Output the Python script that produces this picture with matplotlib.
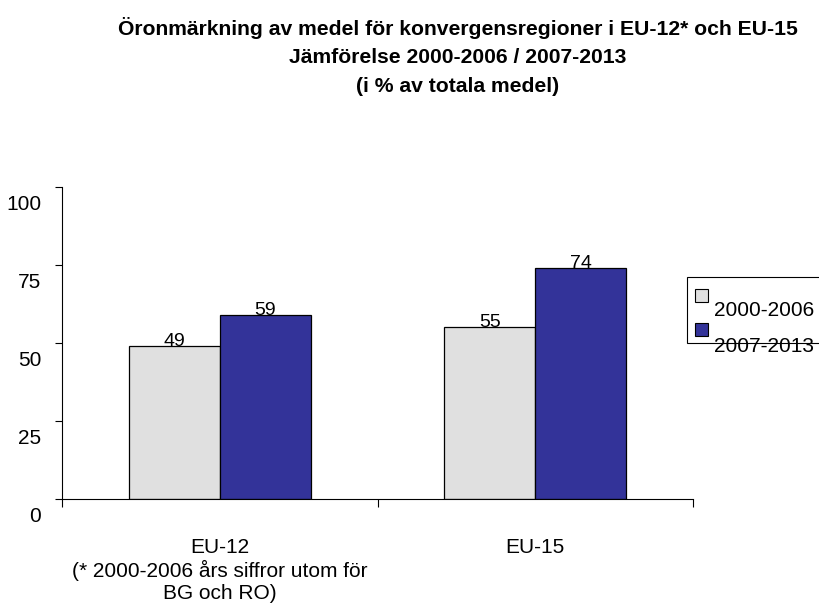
import matplotlib
matplotlib.use("Agg")
from matplotlib import pyplot as plt
from matplotlib.patches import Rectangle
from matplotlib.transforms import ScaledTranslation
import numpy as np

plt.rcParams['font.family'] = ['Liberation Sans', 'DejaVu Sans']

categories = ["EU-12\n(* 2000-2006 års siffror utom för\nBG och RO)", "EU-15"]
series_names = ["2000-2006", "2007-2013"]
values_0006 = [49, 55]
values_0713 = [59, 74]
colors = ["#E0E0E0", "#333399"]

title_lines = ["Öronmärkning av medel för konvergensregioner i EU-12* och EU-15",
               "Jämförelse 2000-2006 / 2007-2013",
               "(i % av totala medel)"]

W, H = 819, 610
fig = plt.figure(figsize=(W / 100, H / 100), dpi=100)
ax = fig.add_axes([62 / W, 1 - 499 / H, (693 - 62) / W, (499 - 187) / H])

x = np.arange(len(categories))
width = 0.288
for i, (vals, name) in enumerate(zip([values_0006, values_0713], series_names)):
    pos = x + (i - 0.5) * width
    ax.bar(pos, vals, width, color=colors[i], edgecolor="black", linewidth=0.9,
           label=name)
    for p, v in zip(pos, vals):
        ax.text(p, v, str(v), ha="center", va="baseline", fontsize=14)

ax.set_xlim(-0.5, 1.5)
ax.set_ylim(0, 100)
ax.set_yticks([0, 25, 50, 75, 100])
ax.tick_params(axis="y", direction="out", length=5, width=0.8, labelsize=15, pad=10)
# excel puts the y labels a bit below their ticks
shift = ScaledTranslation(0, -15.5 / 100, fig.dpi_scale_trans)
for lab in ax.get_yticklabels():
    lab.set_transform(lab.get_transform() + shift)
ax.set_xticks(x)
ax.set_xticklabels(categories, fontsize=15, linespacing=1.2)
ax.tick_params(axis="x", which="major", length=0, pad=28)
ax.set_xticks([-0.5, 0.5, 1.5], minor=True)
ax.tick_params(axis="x", which="minor", direction="out", length=6, width=0.8)
for s in ["top", "right"]:
    ax.spines[s].set_visible(False)
ax.spines["left"].set_linewidth(0.8)
ax.spines["bottom"].set_linewidth(0.8)

for line, base in zip(title_lines, [35, 63, 92]):
    fig.text(458 / W, 1 - base / H, line, ha="center", va="baseline",
             fontsize=15.2, fontweight="bold")

# legend drawn like the original (box partly cut off at the right edge)
fig.patches.append(Rectangle((687 / W, 1 - 343 / H), 140 / W, 66 / H,
                             transform=fig.transFigure, facecolor="white",
                             edgecolor="black", linewidth=0.8))
for i, name in enumerate(series_names):
    top = [289, 323][i]
    fig.patches.append(Rectangle((695 / W, 1 - (top + 13) / H), 13 / W, 13 / H,
                                 transform=fig.transFigure, facecolor=colors[i],
                                 edgecolor="black", linewidth=0.8))
    fig.text(714 / W, 1 - [311, 346][i] / H, name, ha="left", va="center",
             fontsize=15)

fig.savefig("out.png", dpi=100)
